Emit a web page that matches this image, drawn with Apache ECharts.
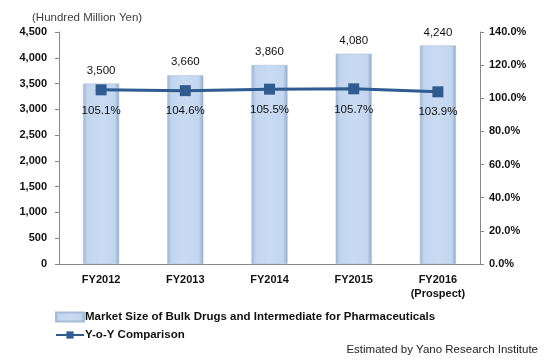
<!DOCTYPE html>
<html><head><meta charset="utf-8">
<script src="https://cdn.jsdelivr.net/npm/echarts@6/dist/echarts.min.js"></script>
<style>html,body{margin:0;padding:0;background:#fff}#c{width:559px;height:361px}</style>
</head><body><div id="c"></div>
<script>
const categories = ['FY2012','FY2013','FY2014','FY2015','FY2016\n(Prospect)'];
const marketSize = [3500,3660,3860,4080,4240];
const yoy = [105.1,104.6,105.5,105.7,103.9];
const barName = 'Market Size of Bulk Drugs and Intermediate for Pharmaceuticals';
const lineName = 'Y-o-Y Comparison';
const F = 'Liberation Sans, Arial, sans-serif';
const chart = echarts.init(document.getElementById('c'));
const barGrad = new echarts.graphic.LinearGradient(0,0,1,0,[
  {offset:0,color:'#9db6d6'},{offset:0.12,color:'#c2d6ee'},{offset:0.5,color:'#c8dbf1'},{offset:0.88,color:'#c2d6ee'},{offset:1,color:'#8ea9cc'}]);
chart.setOption({
  animation:false,
  title:[
    {text:'(Hundred Million Yen)',left:27,top:7,textStyle:{fontFamily:F,fontSize:11.5,fontWeight:'normal',color:'#404040'}},
    {text:'Estimated by Yano Research Institute',right:16,top:339,textStyle:{fontFamily:F,fontSize:11.5,fontWeight:'normal',color:'#222'}}
  ],
  legend:{orient:'vertical',left:50,top:306,itemGap:6,itemWidth:28,itemHeight:9,
    textStyle:{fontFamily:F,fontSize:11.5,fontWeight:'bold',color:'#111',padding:[0,0,0,-4]},
    data:[{name:barName,icon:'rect'},{name:lineName}]},
  grid:{left:59,right:79,top:32,bottom:97},
  xAxis:{type:'category',data:categories,
    axisLine:{lineStyle:{color:'#888'}},axisTick:{show:false},
    axisLabel:{fontFamily:F,fontSize:11,fontWeight:'bold',color:'#111',margin:9,lineHeight:14}},
  yAxis:[
    {type:'value',min:0,max:4500,interval:500,splitLine:{show:false},
     axisLine:{show:true,lineStyle:{color:'#888'}},axisTick:{show:true,length:4,lineStyle:{color:'#888'}},
     axisLabel:{fontFamily:F,fontSize:11,fontWeight:'bold',color:'#111',margin:12,
       formatter:v=>v.toLocaleString('en-US')}},
    {type:'value',min:0,max:140,interval:20,splitLine:{show:false},position:'right',
     axisLine:{show:true,lineStyle:{color:'#888'}},axisTick:{show:true,length:4,lineStyle:{color:'#888'}},
     axisLabel:{fontFamily:F,fontSize:11,fontWeight:'bold',color:'#111',margin:9,formatter:v=>v.toFixed(1)+'%'}}
  ],
  series:[
    {name:barName,type:'bar',data:marketSize,barWidth:36,
     itemStyle:{color:barGrad,borderColor:'#a7bcd8',borderWidth:0.5},
     label:{show:true,position:'top',distance:7,fontFamily:F,fontSize:11.5,color:'#111',
       formatter:p=>p.value.toLocaleString('en-US')}},
    {name:lineName,type:'line',yAxisIndex:1,data:yoy,symbol:'rect',symbolSize:11,
     lineStyle:{color:'#305b91',width:3},itemStyle:{color:'#305b91'},
     label:{show:true,position:'bottom',distance:9,fontFamily:F,fontSize:11.5,color:'#111',
       formatter:p=>p.value.toFixed(1)+'%'}}
  ]
});
</script></body></html>
